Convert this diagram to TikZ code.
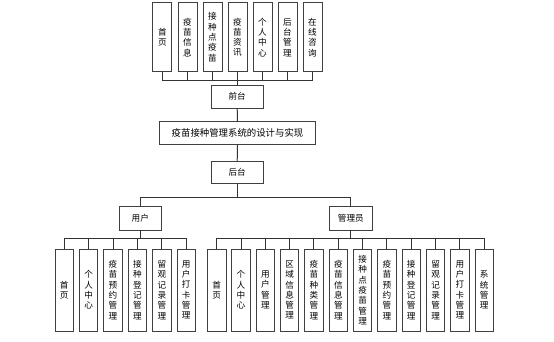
\documentclass[tikz,border=0pt]{standalone}
\usepackage{fontspec}
\setmainfont{Noto Sans CJK SC}
\begin{document}
\begin{tikzpicture}[x=1pt,y=-1pt,
  box/.style={draw=black!75,line width=0.9pt,fill=white,inner sep=0pt,align=center,
    font=\fontsize{8.6}{10.3}\selectfont},
  vbox/.style={box,minimum width=18.5pt,minimum height=82pt},
  tbox/.style={box,minimum width=19pt,minimum height=69pt},
  conn/.style={draw=black!80,line width=1pt}]
\useasboundingbox (0,0) rectangle (554,342);
% top (front-end) items
\foreach \i/\x/\t in {1/162.3/首\\页,2/187.5/疫\\苗\\信\\息,3/212.5/接\\种\\点\\疫\\苗,4/237.5/疫\\苗\\资\\讯,5/262.5/个\\人\\中\\心,6/287.5/后\\台\\管\\理,7/312.5/在\\线\\咨\\询}
  \node[tbox] (t\i) at (\x,37.3) {\t};
\node[box,minimum width=52pt,minimum height=23pt] (qt) at (237.2,96.7) {前台};
\node[box,minimum width=156pt,minimum height=23pt,font=\fontsize{9.4}{11}\selectfont] (title) at (237.5,133) {疫苗接种管理系统的设计与实现};
\node[box,minimum width=52pt,minimum height=22pt] (ht) at (237.2,172.2) {后台};
\node[box,minimum width=42.6pt,minimum height=23.3pt] (user) at (140.3,218.3) {用户};
\node[box,minimum width=43pt,minimum height=23.3pt] (admin) at (350.8,218.3) {管理员};
% user leaves
\foreach \i/\t in {0/首\\页,1/个\\人\\中\\心,2/疫\\苗\\预\\约\\管\\理,3/接\\种\\登\\记\\管\\理,4/留\\观\\记\\录\\管\\理,5/用\\户\\打\\卡\\管\\理}
  \node[vbox] (u\i) at ({64.2+24.4*\i},290) {\t};
% admin leaves
\foreach \i/\t in {0/首\\页,1/个\\人\\中\\心,2/用\\户\\管\\理,3/区\\域\\信\\息\\管\\理,4/疫\\苗\\种\\类\\管\\理,5/疫\\苗\\信\\息\\管\\理,6/接\\种\\点\\疫\\苗\\管\\理,7/疫\\苗\\预\\约\\管\\理,8/接\\种\\登\\记\\管\\理,9/留\\观\\记\\录\\管\\理,10/用\\户\\打\\卡\\管\\理,11/系\\统\\管\\理}
  \node[vbox] (a\i) at ({216.7+24.32*\i},290) {\t};
% coordinates for buses
\coordinate (topbus) at (237.2,80.7);
\coordinate (split) at (237.2,197.5);
\coordinate (ubus) at (140.3,238.3);
\coordinate (abus) at (350.8,238.3);
% connectors: top
\foreach \i in {1,...,7}
  \draw[conn] (t\i.south) -- (t\i.south |- topbus);
\draw[conn] (t1.south |- topbus) -- (t7.south |- topbus);
\draw[conn] (topbus) -- (qt.north);
\draw[conn] (qt.south) -- (title.north);
\draw[conn] (title.south) -- (ht.north);
\draw[conn] (ht.south) -- (split);
\draw[conn] (user.north) |- (split) -| (admin.north);
% user bus
\draw[conn] (user.south) -- (ubus);
\draw[conn] (u0.north |- ubus) -- (u5.north |- ubus);
\foreach \i in {0,...,5}
  \draw[conn] (u\i.north |- ubus) -- (u\i.north);
% admin bus
\draw[conn] (admin.south) -- (abus);
\draw[conn] (a0.north |- abus) -- (a11.north |- abus);
\foreach \i in {0,...,11}
  \draw[conn] (a\i.north |- abus) -- (a\i.north);
\end{tikzpicture}
\end{document}
